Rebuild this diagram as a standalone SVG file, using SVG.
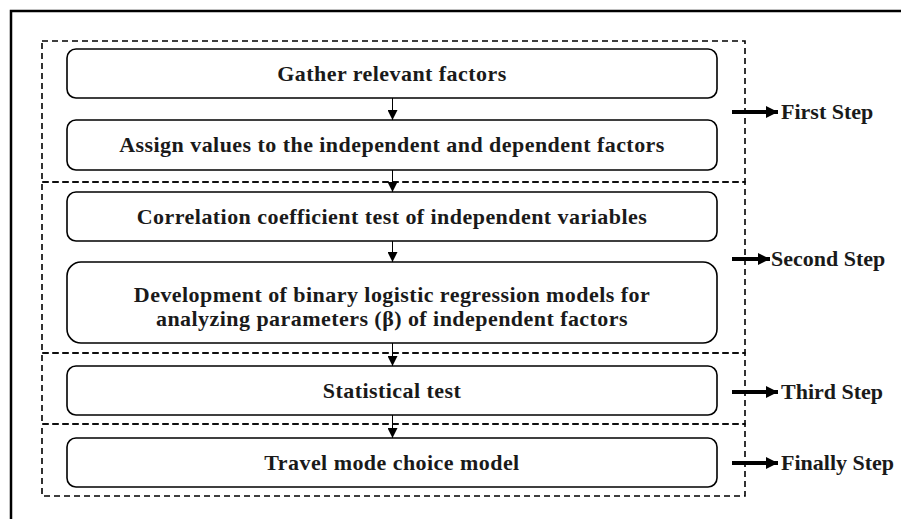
<svg xmlns="http://www.w3.org/2000/svg" width="901" height="519" viewBox="0 0 901 519">
  <style>
    .frame { fill: none; stroke: #000; stroke-width: 2.5; }
    .stage { fill: none; stroke: #000; stroke-width: 1.6; stroke-dasharray: 6 4; }
    .node rect { fill: #fff; stroke: #000; stroke-width: 1.6; }
    .node text { font-family: "Liberation Serif", "DejaVu Serif", serif; font-weight: bold; font-size: 22px; letter-spacing: 0.45px; fill: #1a1a1a; text-anchor: middle; }
    .flow { stroke: #000; stroke-width: 1; fill: none; }
    .step-arrow { stroke: #000; stroke-width: 4; fill: none; }
    .step-label { font-family: "Liberation Serif", "DejaVu Serif", serif; font-weight: bold; font-size: 22px; fill: #1a1a1a; }
  </style>
  <defs>
    <marker id="head" viewBox="0 0 10 10" refX="10" refY="5" markerWidth="10" markerHeight="10" markerUnits="userSpaceOnUse" orient="auto">
      <path d="M0,0 L10,5 L0,10 Z" fill="#000"/>
    </marker>
    <marker id="bighead" viewBox="0 0 12 12" refX="12" refY="6" markerWidth="12" markerHeight="12" markerUnits="userSpaceOnUse" orient="auto">
      <path d="M0,0 L12,6 L0,12 Z" fill="#000"/>
    </marker>
  </defs>
  <rect width="901" height="519" fill="#fff"/>

  <!-- outer frame -->
  <path class="frame" d="M11,519 L11,11 L901,11"/>

  <!-- stage enclosures -->
  <g id="stages">
    <rect class="stage" x="42" y="41" width="703" height="141"/>
    <rect class="stage" x="42" y="182" width="703" height="171"/>
    <rect class="stage" x="42" y="353" width="703" height="71"/>
    <rect class="stage" x="42" y="424" width="703" height="72"/>
  </g>

  <g id="n1" class="node">
    <rect x="67" y="49" width="650" height="49" rx="9"/>
    <text x="392" y="81">Gather relevant factors</text>
  </g>
  <g id="n2" class="node">
    <rect x="67" y="120" width="650" height="50" rx="9"/>
    <text x="392" y="152">Assign values to the independent and dependent factors</text>
  </g>
  <g id="n3" class="node">
    <rect x="67" y="192" width="650" height="49" rx="9"/>
    <text x="392" y="224">Correlation coefficient test of independent variables</text>
  </g>
  <g id="n4" class="node">
    <rect x="67" y="262" width="650" height="81" rx="14"/>
    <text x="392" y="302">Development of binary logistic regression models for</text>
    <text x="392" y="326">analyzing parameters (β) of independent factors</text>
  </g>
  <g id="n5" class="node">
    <rect x="67" y="366" width="650" height="49" rx="9"/>
    <text x="392" y="398">Statistical test</text>
  </g>
  <g id="n6" class="node">
    <rect x="67" y="438" width="650" height="49" rx="9"/>
    <text x="392" y="470">Travel mode choice model</text>
  </g>

  <!-- vertical flow connectors and step pointers -->
  <g id="connectors">
    <line class="flow" x1="392.5" y1="98" x2="392.5" y2="120" marker-end="url(#head)"/>
    <line class="flow" x1="392.5" y1="170" x2="392.5" y2="192" marker-end="url(#head)"/>
    <line class="flow" x1="392.5" y1="241" x2="392.5" y2="262" marker-end="url(#head)"/>
    <line class="flow" x1="392.5" y1="343" x2="392.5" y2="366" marker-end="url(#head)"/>
    <line class="flow" x1="392.5" y1="415" x2="392.5" y2="438" marker-end="url(#head)"/>

    <line class="step-arrow" x1="732" y1="112" x2="778" y2="112" marker-end="url(#bighead)"/>
    <line class="step-arrow" x1="732" y1="259" x2="770" y2="259" marker-end="url(#bighead)"/>
    <line class="step-arrow" x1="732" y1="392" x2="778" y2="392" marker-end="url(#bighead)"/>
    <line class="step-arrow" x1="732" y1="463" x2="778" y2="463" marker-end="url(#bighead)"/>
  </g>

  <g id="step-labels">
    <text class="step-label" x="781" y="119">First Step</text>
    <text class="step-label" x="771" y="266">Second Step</text>
    <text class="step-label" x="781" y="399">Third Step</text>
    <text class="step-label" x="781" y="470">Finally Step</text>
  </g>
</svg>
